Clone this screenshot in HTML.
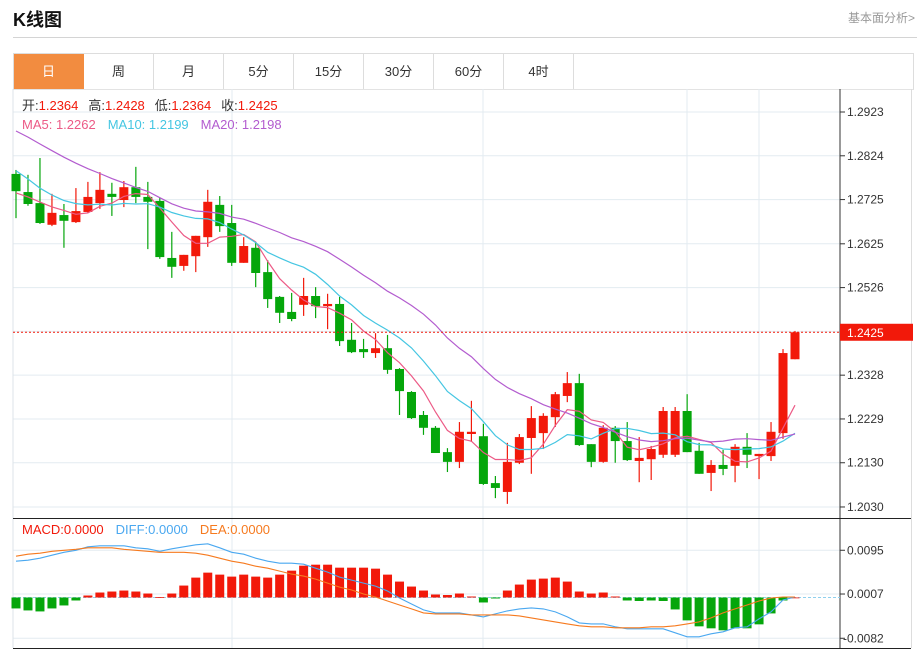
<!DOCTYPE html>
<html><head><meta charset="utf-8">
<style>
body{margin:0;width:917px;height:650px;background:#fff;font-family:"Liberation Sans","Noto Sans CJK SC",sans-serif;position:relative;overflow:hidden}
.title{position:absolute;left:13px;top:6px;font-size:18px;font-weight:bold;color:#111}
.more{position:absolute;right:2px;top:9px;font-size:12px;color:#999}
.hr{position:absolute;left:13px;right:0;top:37px;height:1px;background:#d4d4d4}
.tabs{position:absolute;left:13px;top:53px;width:899px;height:35px;border:1px solid #ddd;border-bottom:1px solid #e3e3e3;display:flex}
.tab{width:70px;height:35px;line-height:35px;text-align:center;font-size:13px;color:#333;border-right:1px solid #ddd;box-sizing:border-box}
.tab.on{background:#f28c40;color:#fff;border-right:1px solid #f28c40}
svg{position:absolute;left:0;top:0}
</style></head><body>
<div class="title">K线图</div>
<div class="more">基本面分析&gt;</div>
<div class="hr"></div>
<div class="tabs">
<div class="tab on">日</div>
<div class="tab">周</div>
<div class="tab">月</div>
<div class="tab">5分</div>
<div class="tab">15分</div>
<div class="tab">30分</div>
<div class="tab">60分</div>
<div class="tab">4时</div>
</div>
<svg id="chart" width="917" height="650"></svg>
<script>
const openP=[1.2783,1.2742,1.2717,1.2668,1.2690,1.2674,1.2697,1.2717,1.2738,1.2724,1.2753,1.2731,1.2722,1.2593,1.2575,1.2597,1.2640,1.2713,1.2672,1.2582,1.2616,1.2561,1.2505,1.2471,1.2487,1.2507,1.2484,1.2489,1.2408,1.2387,1.2378,1.2389,1.2342,1.2290,1.2238,1.2209,1.2154,1.2132,1.2195,1.2190,1.2084,1.2064,1.2130,1.2186,1.2197,1.2233,1.2281,1.2310,1.2172,1.2132,1.2209,1.2179,1.2134,1.2138,1.2148,1.2148,1.2247,1.2157,1.2107,1.2125,1.2123,1.2166,1.2145,1.2145,1.2197,1.2364];
const closeP=[1.2744,1.2715,1.2672,1.2695,1.2677,1.2699,1.2731,1.2747,1.2731,1.2753,1.2731,1.2720,1.2595,1.2573,1.2600,1.2643,1.2720,1.2665,1.2582,1.2620,1.2559,1.2500,1.2469,1.2455,1.2507,1.2484,1.2489,1.2405,1.2380,1.2380,1.2389,1.2340,1.2292,1.2231,1.2209,1.2152,1.2132,1.2200,1.2200,1.2082,1.2073,1.2132,1.2188,1.2231,1.2236,1.2285,1.2310,1.2170,1.2132,1.2209,1.2179,1.2136,1.2141,1.2161,1.2247,1.2247,1.2154,1.2105,1.2125,1.2116,1.2166,1.2148,1.2150,1.2200,1.2378,1.2425];
const highP=[1.2792,1.2781,1.2819,1.2738,1.2715,1.2751,1.2765,1.2787,1.2763,1.2767,1.2799,1.2765,1.2729,1.2652,1.2600,1.2643,1.2747,1.2733,1.2713,1.2640,1.2629,1.2588,1.2507,1.2514,1.2548,1.2527,1.2512,1.2505,1.2446,1.2410,1.2423,1.2419,1.2344,1.2292,1.2247,1.2213,1.2163,1.2222,1.2270,1.2218,1.2100,1.2175,1.2195,1.2258,1.2242,1.2290,1.2335,1.2331,1.2172,1.2215,1.2213,1.2222,1.2188,1.2168,1.2256,1.2256,1.2285,1.2175,1.2136,1.2159,1.2172,1.2197,1.2150,1.2222,1.2387,1.2428];
const lowP=[1.2683,1.2711,1.2670,1.2665,1.2616,1.2672,1.2695,1.2704,1.2688,1.2708,1.2717,1.2613,1.2591,1.2548,1.2564,1.2561,1.2618,1.2652,1.2575,1.2582,1.2527,1.2480,1.2446,1.2450,1.2462,1.2457,1.2432,1.2394,1.2378,1.2367,1.2367,1.2331,1.2238,1.2229,1.2193,1.2152,1.2109,1.2118,1.2177,1.2080,1.2050,1.2037,1.2127,1.2105,1.2161,1.2211,1.2267,1.2168,1.2120,1.2130,1.2130,1.2134,1.2086,1.2091,1.2141,1.2143,1.2154,1.2105,1.2066,1.2102,1.2086,1.2118,1.2093,1.2134,1.2184,1.2364];
const priorCloses=[1.2990,1.2985,1.2995,1.2975,1.2970,1.2980,1.2960,1.2965,1.2950,1.2930,1.2900,1.2880,1.2850,1.2800,1.2770,1.2760,1.2730,1.2750,1.2716];
const priceTicks=[1.2923,1.2824,1.2725,1.2625,1.2526,1.2427,1.2328,1.2229,1.2130,1.2030];
const macdHist=[-0.0022,-0.0026,-0.0028,-0.0022,-0.0016,-0.0006,0.0004,0.0010,0.0012,0.0014,0.0012,0.0008,0.0001,0.0008,0.0024,0.0040,0.0050,0.0046,0.0042,0.0046,0.0042,0.0040,0.0046,0.0054,0.0064,0.0066,0.0066,0.0060,0.0060,0.0060,0.0058,0.0046,0.0032,0.0022,0.0014,0.0006,0.0005,0.0008,0.0002,-0.0010,-0.0002,0.0014,0.0026,0.0036,0.0038,0.0040,0.0032,0.0012,0.0008,0.0010,0.0002,-0.0006,-0.0007,-0.0006,-0.0007,-0.0024,-0.0046,-0.0058,-0.0062,-0.0066,-0.0062,-0.0062,-0.0054,-0.0032,-0.0006,0.0000];
const diffLine=[0.0073,0.0075,0.0079,0.0085,0.0091,0.0095,0.0102,0.0104,0.0104,0.0104,0.0100,0.0098,0.0093,0.0098,0.0102,0.0106,0.0108,0.0100,0.0091,0.0087,0.0079,0.0073,0.0069,0.0069,0.0067,0.0059,0.0051,0.0041,0.0035,0.0029,0.0023,0.0013,-0.0001,-0.0013,-0.0025,-0.0031,-0.0031,-0.0031,-0.0035,-0.0039,-0.0033,-0.0027,-0.0023,-0.0021,-0.0023,-0.0029,-0.0039,-0.0051,-0.0053,-0.0053,-0.0059,-0.0063,-0.0063,-0.0063,-0.0063,-0.0071,-0.0079,-0.0079,-0.0073,-0.0069,-0.0061,-0.0059,-0.0043,-0.0029,-0.0005,0.0001];
const deaLine=[0.0083,0.0087,0.0089,0.0093,0.0095,0.0097,0.0100,0.0100,0.0100,0.0097,0.0095,0.0093,0.0091,0.0091,0.0091,0.0089,0.0085,0.0079,0.0073,0.0069,0.0063,0.0059,0.0053,0.0047,0.0043,0.0037,0.0029,0.0021,0.0015,0.0007,0.0001,-0.0007,-0.0015,-0.0023,-0.0031,-0.0033,-0.0033,-0.0033,-0.0035,-0.0035,-0.0035,-0.0035,-0.0037,-0.0041,-0.0045,-0.0049,-0.0053,-0.0057,-0.0059,-0.0059,-0.0061,-0.0061,-0.0061,-0.0059,-0.0059,-0.0057,-0.0053,-0.0049,-0.0041,-0.0031,-0.0023,-0.0015,-0.0007,-0.0001,0.0001,0.0001];
const macdTicks=[0.0095,0.0007,-0.0082];

const svg=document.getElementById('chart');
const NS='http://www.w3.org/2000/svg';
const RED='#f2190a',GREEN='#05a60b';
const L=13,R=840;
function xAt(i){return 16+i*(779/(closeP.length-1));}
function yP(p){return 112+(1.2923-p)*4423;}
function yM(v){return 597.5-v*4972;}
function mk(tag,attrs){const e=document.createElementNS(NS,tag);for(const k in attrs)e.setAttribute(k,attrs[k]);svg.appendChild(e);return e;}

// grid
priceTicks.forEach(t=>{const g=mk('line',{x1:L,x2:R,y1:yP(t),y2:yP(t),stroke:'#e3ebf1'});

});
macdTicks.forEach(t=>{const g=mk('line',{x1:L,x2:R,y1:yM(t),y2:yM(t),stroke:'#e3ebf1'});

});
[232,483,687,759].forEach(x=>{const g=mk('line',{x1:x,x2:x,y1:89,y2:648,stroke:'#e3ebf1'});

});

// frame
let f;
f=mk('line',{x1:L,x2:L,y1:89,y2:648,stroke:'#dde3e8'});
f=mk('line',{x1:R,x2:R,y1:89,y2:648,stroke:'#333'});
f=mk('line',{x1:L,x2:911,y1:518.5,y2:518.5,stroke:'#222'});
f=mk('line',{x1:L,x2:911,y1:648.5,y2:648.5,stroke:'#222'});
f=mk('line',{x1:911.5,x2:911.5,y1:89,y2:648,stroke:'#ddd'});

// axis labels
priceTicks.forEach(t=>{
 if(Math.abs(t-1.2427)<1e-6)return;
 const tk=mk('line',{x1:R,x2:R+5,y1:yP(t),y2:yP(t),stroke:'#333'});
 
 
 const tx=mk('text',{x:847,y:yP(t)+4,'font-size':12,fill:'#333'});tx.textContent=t.toFixed(4);
 
 
});
macdTicks.forEach(t=>{
 const tk=mk('line',{x1:R,x2:R+5,y1:yM(t),y2:yM(t),stroke:'#333'});
 
 
 const tx=mk('text',{x:t<0?843:847,y:yM(t)+4,'font-size':12,fill:'#333'});tx.textContent=t.toFixed(4);
 
 
});

// candles
const bw=9;
closeP.forEach((c,i)=>{
 const o=openP[i],up=c>=o,col=up?RED:GREEN,x=xAt(i);
 const w=mk('line',{x1:x,x2:x,y1:yP(highP[i]),y2:yP(lowP[i]),stroke:col,'stroke-width':1.2});
 
 
 const top=yP(Math.max(o,c)),bot=yP(Math.min(o,c));
 const b=mk('rect',{x:x-bw/2,y:top,width:bw,height:Math.max(1.5,bot-top),fill:col});
 
 
});

// moving averages
const all=priorCloses.concat(closeP);
function ma(n){return closeP.map((_,i)=>{const e=i+priorCloses.length+1;let s=0;for(let k=e-n;k<e;k++)s+=all[k];return s/n;});}
[[5,'#ec5a86','ma5-line'],[10,'#45c6e2','ma10-line'],[20,'#b35ccf','ma20-line']].forEach(([n,c,name])=>{
 const pts=ma(n).map((v,i)=>xAt(i).toFixed(1)+','+yP(v).toFixed(1)).join(' ');
 const pl=mk('polyline',{points:pts,fill:'none',stroke:c,'stroke-width':1.2});
 
 
});

// current price
const last=closeP[closeP.length-1];
f=mk('line',{x1:L,x2:R,y1:yP(last),y2:yP(last),stroke:'#f2190a','stroke-dasharray':'2,2'});

f=mk('rect',{x:R,y:yP(last)-8.5,width:73,height:17,fill:'#f2190a'});

f=mk('text',{x:847,y:yP(last)+4.5,'font-size':12,fill:'#fff'});f.textContent=last.toFixed(4);


// macd
f=mk('line',{x1:L,x2:R,y1:yM(0),y2:yM(0),stroke:'#8fd0ee','stroke-dasharray':'3,2'});

macdHist.forEach((v,i)=>{
 const y0=yM(0),y1=yM(v);
 const r=mk('rect',{x:xAt(i)-bw/2,y:Math.min(y0,y1),width:bw,height:Math.max(0.8,Math.abs(y1-y0)),fill:v>=0?RED:GREEN});
 
 
});
[[diffLine,'#4aa8f0','diff-line'],[deaLine,'#f67a1f','dea-line']].forEach(([arr,c,name])=>{
 const pts=arr.map((v,i)=>xAt(i).toFixed(1)+','+yM(v).toFixed(1)).join(' ');
 const pl=mk('polyline',{points:pts,fill:'none',stroke:c,'stroke-width':1.1});
 
 
});

// legends
function legend(y,items,name){
 const t=mk('text',{x:22,y:y,'font-size':13});
 
 
 items.forEach(([s,c,dx])=>{const ts=document.createElementNS(NS,'tspan');ts.setAttribute('fill',c);if(dx)ts.setAttribute('dx',dx);ts.textContent=s;t.appendChild(ts);});
}
legend(110,[['开:','#333'],['1.2364','#f2190a'],['高:','#333',10],['1.2428','#f2190a'],['低:','#333',10],['1.2364','#f2190a'],['收:','#333',10],['1.2425','#f2190a']],'ohlc-legend');
legend(129,[['MA5: 1.2262','#ec5a86'],['MA10: 1.2199','#45c6e2',12],['MA20: 1.2198','#b35ccf',12]],'ma-legend');
legend(534,[['MACD:0.0000','#f2190a'],['DIFF:0.0000','#4aa8f0',12],['DEA:0.0000','#f67a1f',12]],'macd-legend');
</script>
</body></html>
